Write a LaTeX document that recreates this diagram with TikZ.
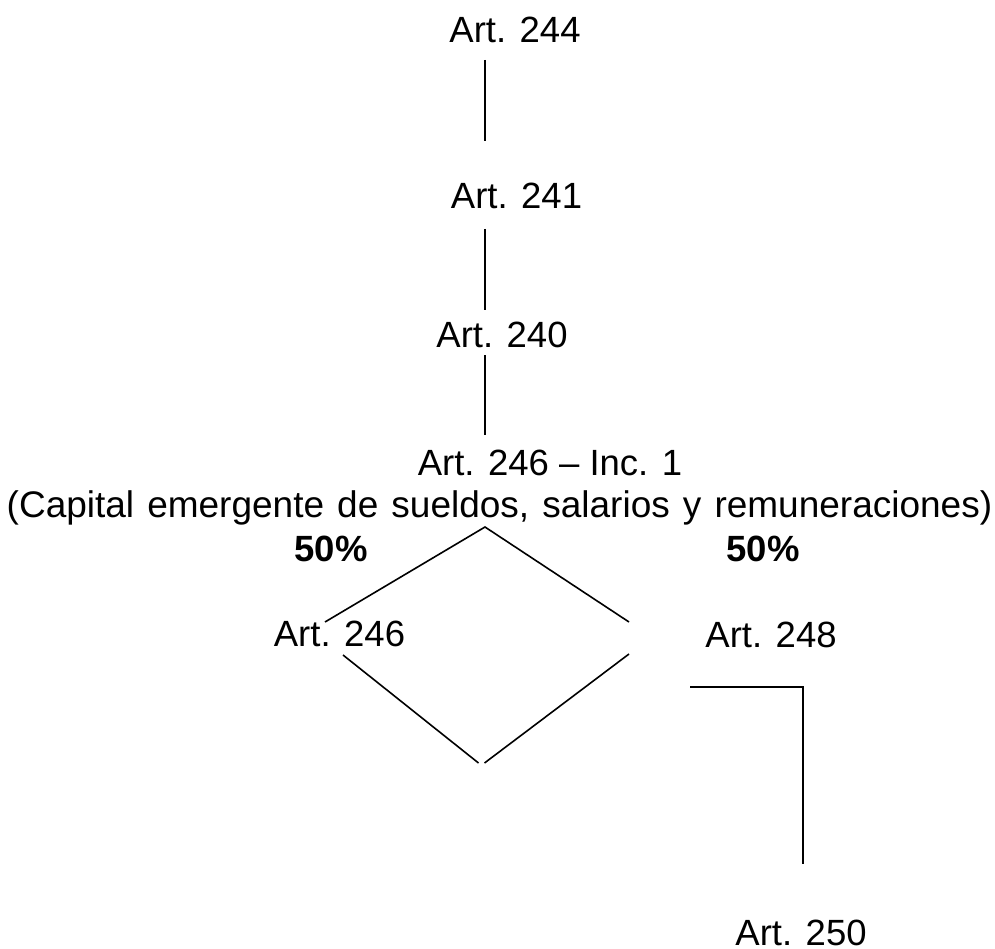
\documentclass[tikz,border=0pt]{standalone}
\usepackage{fontspec}
\setmainfont{Liberation Sans}
\newcommand\capfontsel{\fontsize{37}{40}\selectfont\spaceskip=13.1pt\relax}
\begin{document}
\begin{tikzpicture}[x=1pt,y=-1pt,
  lbl/.style={anchor=base,inner sep=0pt,font=\fontsize{36.5}{40}\selectfont},
  caplbl/.style={anchor=base,inner sep=0pt,font=\capfontsel},
  pct/.style={lbl,font=\fontsize{36.5}{40}\selectfont\bfseries},
  conn/.style={draw=black,line width=1.6pt}]
\useasboundingbox (0,0) rectangle (995,949);
% text nodes
\node[lbl] (a244) at (515,43) {Art. 244};
\node[lbl] (a241) at (516.5,209) {Art. 241};
\node[lbl] (a240) at (502,347) {Art. 240};
\node[lbl] (a246i) at (550,475) {Art. 246 -- Inc. 1};
\node[caplbl] (cap) at (499.5,517) {(Capital emergente de sueldos, salarios y remuneraciones)};
\node[pct] (p1) at (331,561) {50\%};
\node[pct] (p2) at (763,561) {50\%};
\node[lbl] (a246) at (339.5,646) {Art. 246};
\node[lbl] (a248) at (771,647) {Art. 248};
\node[lbl] (a250) at (801,945.5) {Art. 250};
% connector end points
\coordinate (v1a) at (485,60);  \coordinate (v1b) at (485,141);
\coordinate (v2a) at (485,229); \coordinate (v2b) at (485,310);
\coordinate (v3a) at (485,355); \coordinate (v3b) at (485,435);
\coordinate (dtop) at (485,527);
\coordinate (dl) at (325,622);
\coordinate (dr) at (629,622);
\coordinate (dl2) at (343,655);
\coordinate (dr2) at (629,654);
\coordinate (dbl) at (478.5,763);
\coordinate (dbr) at (484.5,763);
\coordinate (h1) at (690,687);
\coordinate (hc) at (803,687);
\coordinate (h2) at (803,864);
% connectors
\draw[conn] (v1a) -- (v1b);
\draw[conn] (v2a) -- (v2b);
\draw[conn] (v3a) -- (v3b);
\draw[conn] (dl) -- (dtop) -- (dr);
\draw[conn] (dl2) -- (dbl);
\draw[conn] (dbr) -- (dr2);
\draw[conn] (h1) -- (hc) -- (h2);
\end{tikzpicture}
\end{document}
